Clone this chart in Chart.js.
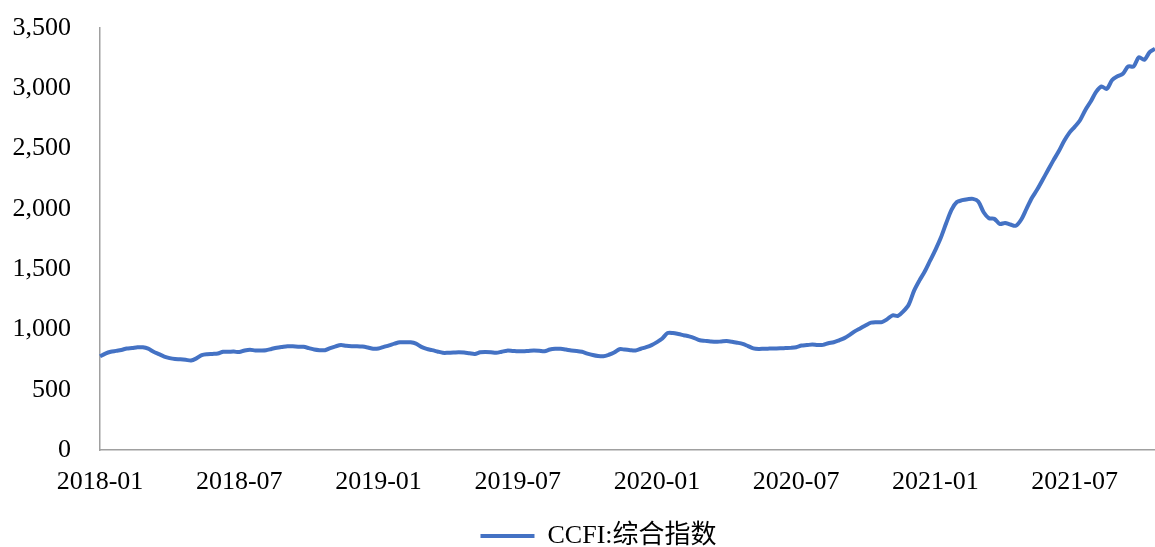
<!DOCTYPE html>
<html>
<head>
<meta charset="utf-8">
<script src="https://cdn.jsdelivr.net/npm/chart.js@4"></script>
<style>
  html, body { margin: 0; padding: 0; background: #fff; }
  #wrap { width: 1155px; height: 547px; position: relative; }
</style>
</head>
<body>
<div id="wrap"><canvas id="c"></canvas></div>
<script>
// Weekly CCFI composite index, first release 2018-01-05, 198 weeks
const startDate = '2018-01-05';
const weekCount = 198;
const seriesName = 'CCFI:综合指数';
const ccfiValues = [
  777, 800, 815, 822, 830, 842, 846, 852, 852, 840,
  815, 795, 775, 762, 754, 752, 748, 742, 760, 787,
  795, 797, 800, 815, 815, 816, 812, 825, 832, 825,
  826, 828, 838, 848, 855, 861, 860, 857, 856, 845,
  833, 828, 828, 845, 860, 871, 864, 861, 861, 858,
  850, 840, 842, 855, 868, 882, 894, 893, 893, 882,
  855, 838, 828, 817, 806, 806, 808, 811, 808, 802,
  797, 810, 812, 810, 806, 815, 824, 822, 819, 819,
  822, 825, 823, 819, 833, 839, 839, 833, 825, 822,
  815, 800, 788, 780, 778, 790, 808, 836, 833, 828,
  826, 840, 853, 870, 895, 925, 970, 970, 962, 952,
  942, 928, 910, 905, 900, 897, 900, 903, 898, 890,
  880, 862, 843, 838, 840, 841, 842, 843, 845, 847,
  852, 866, 870, 875, 871, 872, 885, 894, 910, 928,
  955, 986, 1010, 1035, 1056, 1060, 1061, 1085, 1117, 1112,
  1150, 1205, 1320, 1405, 1480, 1570, 1660, 1760, 1880, 1992,
  2056, 2072, 2080, 2083, 2061, 1972, 1922, 1917, 1875, 1883,
  1870, 1860, 1910, 2000, 2090, 2160, 2240, 2320, 2400, 2475,
  2560, 2630, 2680, 2735, 2820, 2890, 2970, 3015, 2995, 3069,
  3100, 3120, 3181, 3181, 3258, 3236, 3300, 3328
];
const yTickMin = 0, yTickMax = 3500, yTickStep = 500;
const xTickEvery = 26; // half-year labels: 2018-01, 2018-07, ...

// weekly category labels (YYYY-MM-DD)
const weekLabels = [];
{
  const d0 = new Date(startDate + 'T00:00:00Z');
  for (let i = 0; i < weekCount; i++) {
    const d = new Date(d0.getTime() + i * 7 * 86400000);
    weekLabels.push(d.toISOString().slice(0, 10));
  }
}

const serif = "'Liberation Serif', 'Times New Roman', serif";
const legendFont = "'Liberation Serif', 'Noto Sans CJK SC', serif";

const legendShift = {
  id: 'legendShift',
  afterLayout(chart) {
    const l = chart.legend;
    if (!l) return;
    const dx = 21, dy = 12;
    l.left += dx; l.right += dx;
    l.top += dy; l.bottom += dy;
  }
};

new Chart(document.getElementById('c'), {
  type: 'line',
  data: {
    labels: weekLabels,
    datasets: [{
      label: seriesName,
      data: ccfiValues,
      borderColor: '#4472C4',
      backgroundColor: '#4472C4',
      borderWidth: 4,
      pointRadius: 0,
      tension: 0.3,
      fill: false
    }]
  },
  options: {
    responsive: true,
    maintainAspectRatio: false,
    animation: false,
    layout: { padding: { top: 28, right: 0, bottom: 0, left: 0 } },
    plugins: {
      legend: {
        position: 'bottom',
        labels: {
          font: { family: legendFont, size: 26 },
          color: '#000',
          usePointStyle: true,
          pointStyle: 'line',
          pointStyleWidth: 54,
          padding: 10
        }
      },
      tooltip: { enabled: false }
    },
    scales: {
      x: {
        type: 'category',
        offset: false,
        grid: { display: false, drawTicks: false },
        border: { display: true, color: '#a0a0a0', width: 1.5 },
        afterBuildTicks(scale) {
          scale.ticks = scale.ticks.filter(t => t.value % xTickEvery === 0);
        },
        afterFit(scale) {
          scale.height = 51;
          scale.paddingLeft = 0; scale.paddingRight = 0;
        },
        ticks: {
          autoSkip: false,
          maxRotation: 0,
          minRotation: 0,
          padding: 17,
          color: '#000',
          font: { family: serif, size: 26 },
          callback(value) { return this.getLabelForValue(value).slice(0, 7); }
        }
      },
      y: {
        min: yTickMin,
        max: yTickMax,
        grid: { display: false, drawTicks: false },
        border: { display: true, color: '#a0a0a0', width: 1.5 },
        afterFit(scale) {
          scale.width = 100;
          scale.paddingTop = 0; scale.paddingBottom = 0;
        },
        ticks: {
          stepSize: yTickStep,
          padding: 29,
          color: '#000',
          font: { family: serif, size: 26 },
          callback(value) { return value.toLocaleString('en-US'); }
        }
      }
    }
  },
  plugins: [legendShift]
});
</script>
</body>
</html>
